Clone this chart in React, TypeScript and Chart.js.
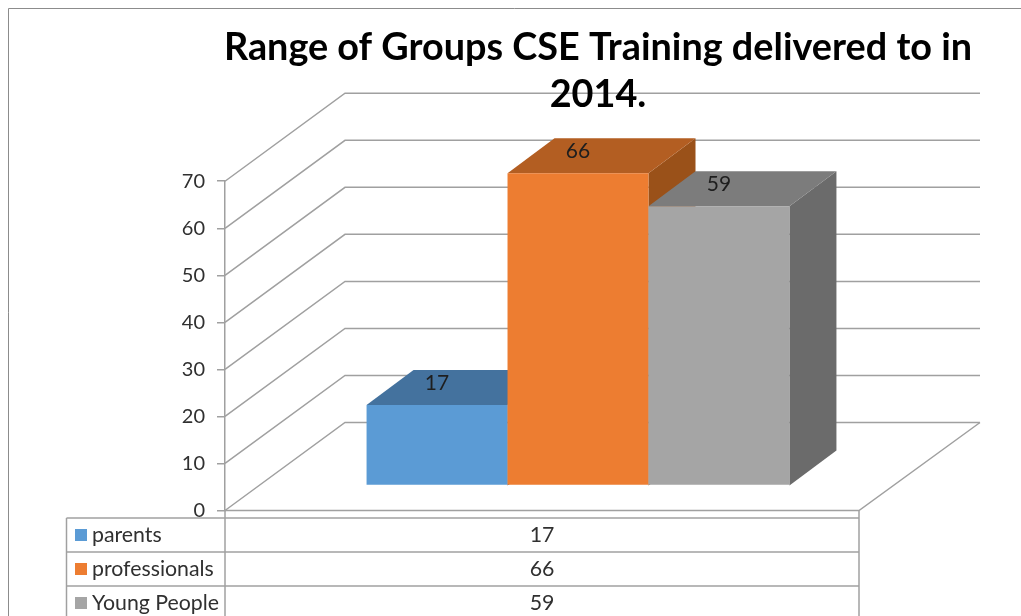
import React, { useEffect, useRef } from "react";
import { Chart, registerables } from "chart.js";

Chart.register(...registerables);

const categories = ["2014"];
const seriesNames = ["parents", "professionals", "Young People"];
const parents = [17];
const professionals = [66];
const youngPeople = [59];
const titleLines = ["Range of Groups CSE Training delivered to in", "2014."];
const frontColors = ["#5B9BD5", "#ED7D31", "#A5A5A5"];
const topColors = ["#44729E", "#B35E22", "#7C7C7C"];
const sideColors = ["#3A6187", "#9A5119", "#6B6B6B"];
const LINE = "#A0A0A0";
const FONT = "Lato, sans-serif";

const WALL_DX = 120;
const WALL_DY = -88;
const BAR_DX = 36;
const BAR_DEPTH_X = 47;
const BAR_DEPTH_Y = -35;
const TABLE_LEFT = 66.5;
const ROW_LINES = [518, 552, 586];
const BACK_RIGHT = 980;

function line(ctx: CanvasRenderingContext2D, pts: number[][], color = LINE, width = 1.5) {
  ctx.save();
  ctx.strokeStyle = color;
  ctx.lineWidth = width;
  ctx.beginPath();
  pts.forEach((p, i) => (i ? ctx.lineTo(p[0], p[1]) : ctx.moveTo(p[0], p[1])));
  ctx.stroke();
  ctx.restore();
}

function poly(ctx: CanvasRenderingContext2D, pts: number[][], color: string) {
  ctx.fillStyle = color;
  ctx.beginPath();
  pts.forEach((p, i) => (i ? ctx.lineTo(p[0], p[1]) : ctx.moveTo(p[0], p[1])));
  ctx.closePath();
  ctx.fill();
}

const placeTitle = {
  id: "placeTitle",
  afterLayout(chart: any) {
    chart.titleBlock.left = 175;
    chart.titleBlock.right = 1021;
  },
};

const walls = {
  id: "walls",
  beforeDraw(chart: any) {
    const { ctx, scales, chartArea } = chart;
    const y = scales.y;
    const { left, right } = chartArea;
    line(ctx, [[8.5, chart.height], [8.5, 8.5], [1021, 8.5]], "#8C8C8C", 1);
    for (const v of y.ticks.map((t: any) => t.value)) {
      const py = y.getPixelForValue(v);
      line(ctx, [[left, py], [left + WALL_DX, py + WALL_DY], [BACK_RIGHT, py + WALL_DY]]);
    }
    const base = y.getPixelForValue(0);
    line(ctx, [[left, base], [right, base], [BACK_RIGHT, base + WALL_DY]]);
  },
};

const bars3d = {
  id: "bars3d",
  beforeDatasetDraw() {
    return false;
  },
  afterDatasetsDraw(chart: any) {
    const { ctx } = chart;
    const base = chart.scales.y.getPixelForValue(0);
    const mapY = (v: number) => base - 25 + (v - base) * 1.006;
    chart.data.datasets.forEach((ds: any, i: number) => {
      const el = chart.getDatasetMeta(i).data[0];
      const x0 = el.x - el.width / 2 + BAR_DX;
      const x1 = el.x + el.width / 2 + BAR_DX;
      const top = mapY(el.y);
      const bot = base - 25;
      poly(ctx, [[x1, top], [x1 + BAR_DEPTH_X, top + BAR_DEPTH_Y], [x1 + BAR_DEPTH_X, bot + BAR_DEPTH_Y], [x1, bot]], sideColors[i]);
      poly(ctx, [[x0, top], [x0 + BAR_DEPTH_X, top + BAR_DEPTH_Y], [x1 + BAR_DEPTH_X, top + BAR_DEPTH_Y], [x1, top]], topColors[i]);
      ctx.save();
      ctx.translate(BAR_DX, base - 25);
      ctx.scale(1, 1.006);
      ctx.translate(0, -base);
      el.draw(ctx);
      ctx.restore();
    });
    chart.data.datasets.forEach((ds: any, i: number) => {
      const el = chart.getDatasetMeta(i).data[0];
      ctx.save();
      ctx.font = `21px ${FONT}`;
      ctx.fillStyle = "#1E1E1E";
      ctx.textAlign = "center";
      ctx.textBaseline = "middle";
      ctx.fillText(String(ds.data[0]), el.x + BAR_DX, mapY(el.y) - 22);
      ctx.restore();
    });
  },
};

const dataTable = {
  id: "dataTable",
  afterDraw(chart: any) {
    const { ctx, chartArea } = chart;
    const { left, right } = chartArea;
    const h = chart.height;
    ROW_LINES.forEach((ry) => line(ctx, [[TABLE_LEFT, ry], [right, ry]]));
    [TABLE_LEFT, left, right].forEach((cx) => line(ctx, [[cx, ROW_LINES[0]], [cx, h]]));
    line(ctx, [[left, chart.scales.y.getPixelForValue(0)], [left, ROW_LINES[0]]]);
    line(ctx, [[right, chart.scales.y.getPixelForValue(0)], [right, ROW_LINES[0]]]);
    chart.data.datasets.forEach((ds: any, i: number) => {
      const cy = ROW_LINES[i] + 17;
      ctx.fillStyle = frontColors[i];
      ctx.fillRect(75, cy - 6, 12, 12);
      ctx.save();
      ctx.font = `21.3px ${FONT}`;
      ctx.fillStyle = "#303030";
      ctx.textBaseline = "middle";
      ctx.textAlign = "left";
      ctx.fillText(ds.label, 92, cy);
      ctx.textAlign = "center";
      ctx.fillText(String(ds.data[0]), (left + right) / 2, cy);
      ctx.restore();
    });
  },
};

export default function App() {
  const ref = useRef<HTMLCanvasElement>(null);
  useEffect(() => {
    document.body.style.margin = "0";
    const chart = new Chart(ref.current!, {
      type: "bar",
      data: {
        labels: categories,
        datasets: [parents, professionals, youngPeople].map((data, i) => ({
          label: seriesNames[i],
          data,
          backgroundColor: frontColors[i],
          categoryPercentage: 0.667,
          barPercentage: 1,
        })),
      },
      options: {
        animation: false,
        responsive: false,
        layout: { padding: { left: 0, right: 162, top: 0, bottom: 105.5 } },
        plugins: {
          legend: { display: false },
          tooltip: { enabled: false },
          title: {
            display: true,
            text: titleLines,
            color: "#000000",
            font: { family: FONT, size: 37.8, weight: "bold", lineHeight: 1.24 },
            padding: { top: 24, bottom: 63.5 },
          },
        },
        scales: {
          x: { display: false },
          y: {
            min: 0,
            max: 70,
            afterFit(s: any) {
              s.width = 225;
            },
            ticks: {
              stepSize: 10,
              color: "#303030",
              font: { family: FONT, size: 20 },
              padding: 12,
            },
            border: { color: LINE, width: 1.5 },
            grid: { drawOnChartArea: false, tickLength: 8, color: LINE, lineWidth: 1.5 },
          },
        },
      },
      plugins: [placeTitle, walls, bars3d, dataTable],
    } as any);
    return () => chart.destroy();
  }, []);
  return (
    <div style={{ width: 1021, height: 616, overflow: "hidden", background: "#fff" }}>
      <canvas ref={ref} width={1021} height={616} style={{ display: "block" }} />
    </div>
  );
}
